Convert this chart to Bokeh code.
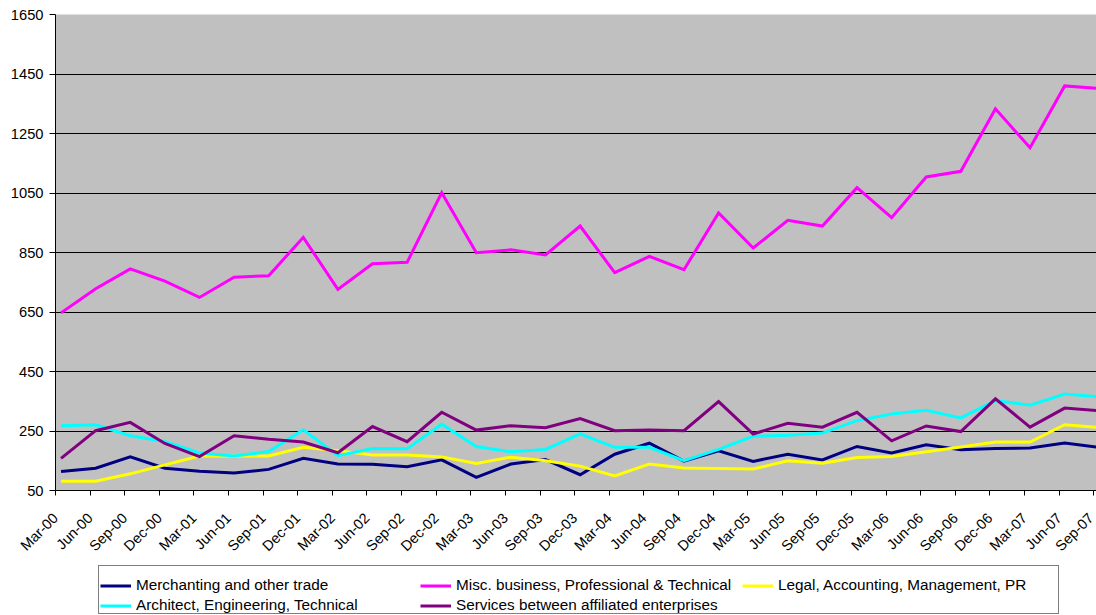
import math

from bokeh.plotting import figure
from bokeh.layouts import column
from bokeh.models import Range1d, FixedTicker, Legend, LegendItem
from bokeh.embed import file_html
from bokeh.resources import INLINE

# Quarterly periods, Mar-00 to Sep-07
quarters = [
    "Mar-00", "Jun-00", "Sep-00", "Dec-00",
    "Mar-01", "Jun-01", "Sep-01", "Dec-01",
    "Mar-02", "Jun-02", "Sep-02", "Dec-02",
    "Mar-03", "Jun-03", "Sep-03", "Dec-03",
    "Mar-04", "Jun-04", "Sep-04", "Dec-04",
    "Mar-05", "Jun-05", "Sep-05", "Dec-05",
    "Mar-06", "Jun-06", "Sep-06", "Dec-06",
    "Mar-07", "Jun-07", "Sep-07",
]

merchanting = [114, 125, 163, 125, 115, 109, 121, 158, 139, 138, 130, 153, 94, 139, 154, 103,
               172, 209, 149, 183, 148, 172, 153, 198, 176, 204, 187, 191, 193, 210, 195]
misc_business = [647, 728, 795, 754, 699, 767, 772, 901, 726, 812, 817, 1051, 849, 859, 842, 939,
                 782, 837, 792, 983, 865, 958, 939, 1068, 967, 1104, 1123, 1333, 1202, 1410, 1401]
legal = [81, 81, 106, 136, 166, 166, 166, 195, 184, 169, 169, 163, 141, 162, 150, 132,
         99, 139, 126, 124, 122, 150, 142, 161, 164, 180, 196, 213, 213, 271, 262]
architect = [268, 271, 234, 215, 176, 166, 181, 254, 167, 191, 190, 273, 198, 180, 188, 240,
             195, 195, 150, 188, 232, 236, 243, 285, 307, 320, 294, 352, 337, 374, 365]
affiliated = [158, 251, 279, 208, 164, 234, 222, 213, 177, 265, 214, 313, 253, 268, 261, 292,
              251, 253, 251, 349, 240, 276, 263, 313, 217, 267, 248, 358, 263, 327, 318]

series_names = [
    "Merchanting and other trade",
    "Misc. business, Professional & Technical",
    "Legal, Accounting, Management, PR",
    "Architect, Engineering, Technical",
    "Services between affiliated enterprises",
]
series_values = [merchanting, misc_business, legal, architect, affiliated]
series_colors = ["#000080", "#FF00FF", "#FFFF00", "#00FFFF", "#800080"]

y_ticks = [50, 250, 450, 650, 850, 1050, 1250, 1450, 1650]

FONT = "Liberation Sans"

# data points sit slightly after each quarter's tick mark (mid-month dates)
x_pos = [i + 0.16 for i in range(len(quarters))]

p = figure(
    width=1096, height=565,
    output_backend="svg", toolbar_location=None,
    x_range=Range1d(0, 30.08), y_range=Range1d(50, 1650),
    min_border_left=55, min_border_right=0, min_border_top=14, min_border_bottom=75,
    background_fill_color="#C0C0C0", border_fill_color="white",
)
p.outline_line_color = None

for vals, col in zip(series_values, series_colors):
    p.line(x_pos, vals, line_color=col, line_width=3, line_join="miter")

# y axis
p.yaxis.ticker = FixedTicker(ticks=y_ticks)
p.yaxis.minor_tick_line_color = None
p.yaxis.major_tick_out = 6
p.yaxis.major_tick_in = 0
p.yaxis.axis_line_color = "black"
p.yaxis.major_tick_line_color = "black"
p.yaxis.major_label_text_font = FONT
p.yaxis.major_label_text_font_size = "14.7px"
p.yaxis.major_label_text_color = "black"
p.yaxis.major_label_standoff = 6

# x axis with quarter labels
p.xaxis.ticker = FixedTicker(ticks=list(range(len(quarters))))
p.xaxis.major_label_overrides = {i: q for i, q in enumerate(quarters)}
p.xaxis.major_label_orientation = math.pi / 4
p.xaxis.minor_tick_line_color = None
p.xaxis.major_tick_out = 5
p.xaxis.major_tick_in = 0
p.xaxis.axis_line_color = "black"
p.xaxis.major_tick_line_color = "black"
p.xaxis.major_label_text_font = FONT
p.xaxis.major_label_text_font_size = "14.5px"
p.xaxis.major_label_text_color = "black"
p.xaxis.major_label_standoff = 20

p.xgrid.grid_line_color = None
p.ygrid.ticker = FixedTicker(ticks=y_ticks)
p.ygrid.grid_line_color = "black"
p.ygrid.grid_line_width = 1

# legend strip underneath the chart (its frame is aligned with the chart frame)
lg = figure(
    width=1096, height=50,
    output_backend="svg", toolbar_location=None,
    x_range=Range1d(0, 1), y_range=Range1d(0, 1),
    min_border=0, x_axis_location=None, y_axis_location=None,
    background_fill_color="white", border_fill_color="white",
)
lg.outline_line_color = None
lg.xgrid.grid_line_color = None
lg.ygrid.grid_line_color = None

# legend keys: line styles only, their points lie outside the strip's ranges
keys = [lg.line([5, 6], [5, 6], line_color=c, line_width=3) for c in series_colors]
items = [LegendItem(label=n, renderers=[r]) for n, r in zip(series_names, keys)]

# outer legend box: two blank rows spanning the full legend width
blank = lg.line([5, 6], [5, 6], line_alpha=0)
box = Legend(
    items=[LegendItem(label=" ", renderers=[blank]), LegendItem(label="  ", renderers=[blank])],
    location=(43, 1), orientation="vertical",
    glyph_width=31, glyph_height=17, label_height=17, label_standoff=3,
    spacing=3, padding=5, margin=0, label_width=915,
    label_text_font=FONT, label_text_font_size="9px", label_text_alpha=0,
    border_line_color="black", border_line_width=1,
    background_fill_color="white", background_fill_alpha=1,
)
lg.add_layout(box)

common = dict(
    orientation="vertical", glyph_width=31, glyph_height=17, label_height=17,
    label_standoff=5, spacing=2, padding=5, margin=0,
    border_line_color=None, background_fill_alpha=0,
    label_text_font=FONT, label_text_font_size="15.3px", label_text_color="black",
)

leg_a = Legend(items=[items[0], items[3]], location=(45, 1), **common)
leg_b = Legend(items=[items[1], items[4]], location=(365, 1), **common)
leg_c = Legend(items=[items[2]], location=(687, 21), **common)
for leg in (leg_a, leg_b, leg_c):
    lg.add_layout(leg)

page = column(p, lg, spacing=0)
open("out.html", "w").write(file_html(page, INLINE))
